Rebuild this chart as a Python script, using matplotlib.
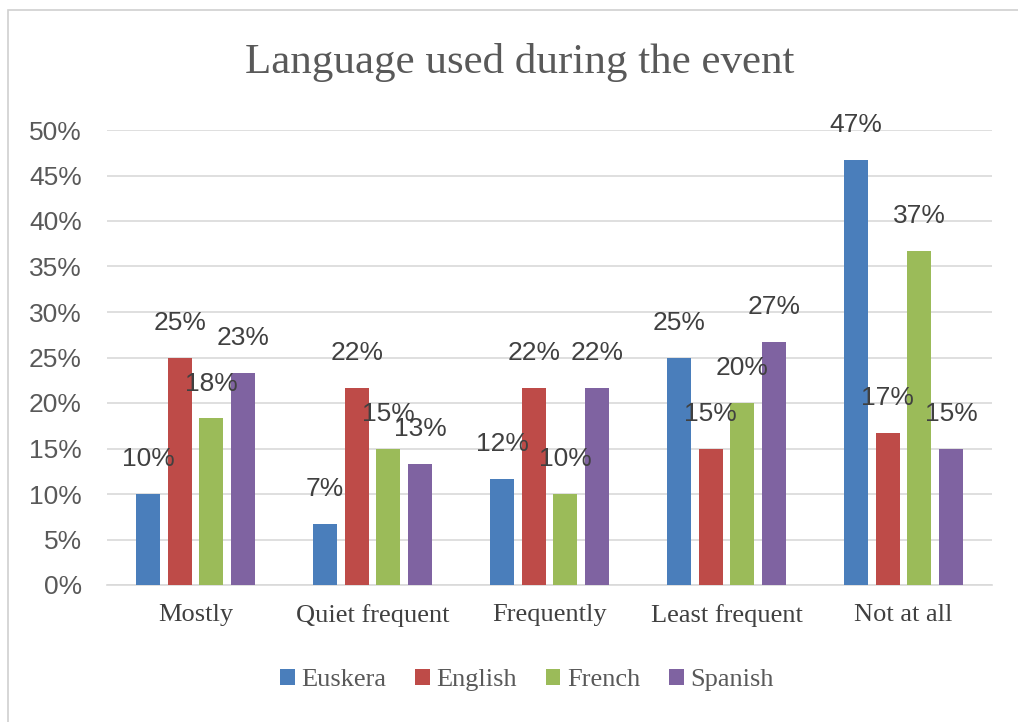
#!/usr/bin/env python3
"""Grouped bar chart: language used during the event."""

import matplotlib
matplotlib.use("Agg")
import matplotlib.pyplot as plt
import numpy as np
from matplotlib.patches import Rectangle

categories = ["Mostly", "Quiet frequent", "Frequently", "Least frequent", "Not at all"]
languages = ["Euskera", "English", "French", "Spanish"]
euskera = [0.100, 0.067, 0.117, 0.250, 0.467]
english = [0.250, 0.217, 0.217, 0.150, 0.167]
french = [0.183, 0.150, 0.100, 0.200, 0.367]
spanish = [0.233, 0.133, 0.217, 0.267, 0.150]
colors = ["#4a7ebb", "#be4b48", "#9bbb59", "#7f63a1"]


def main():
    series = [euskera, english, french, spanish]
    fig = plt.figure(figsize=(10.18, 7.22), dpi=100)
    # chart-area border (only left and top edges fall inside the picture)
    fig.patches.append(Rectangle((8 / 1018, -0.05), 1.1, 1.05 - 10 / 722, transform=fig.transFigure,
                                 fill=False, edgecolor="#d0d0d0", linewidth=1.2))
    ax = fig.add_axes([107 / 1018, 1 - 585 / 722, 885 / 1018, 455 / 722])

    x = np.arange(len(categories))
    width = 0.136
    step = 0.179
    for i, (vals, name, col) in enumerate(zip(series, languages, colors)):
        pos = x + (i - 1.5) * step
        ax.bar(pos, vals, width, color=col, label=name, zorder=3)
        for px, v in zip(pos, vals):
            ax.annotate(f"{v * 100:.0f}%", (px, v), xytext=(0, 25), textcoords="offset points",
                        ha="center", va="center", fontsize=19, color="#404040",
                        family="Liberation Sans", zorder=4)

    ax.set_xlim(-0.5, len(categories) - 0.5)
    ax.set_ylim(0, 0.5)
    ticks = np.arange(0, 0.51, 0.05)
    ax.set_yticks(ticks)
    ax.set_yticklabels([f"{int(round(t * 100))}%" for t in ticks],
                       family="Liberation Sans", fontsize=19, color="#595959")
    ax.set_xticks(x)
    ax.set_xticklabels(categories, family="Liberation Serif", fontsize=19, color="#404040")
    ax.tick_params(axis="x", length=0, pad=14)
    ax.tick_params(axis="y", length=0, pad=18)
    ax.grid(True, axis="y", color="#d9d9d9", linewidth=1.2, zorder=0)
    for s in ["top", "right", "left"]:
        ax.spines[s].set_visible(False)
    ax.spines["bottom"].set_color("#d9d9d9")
    ax.spines["bottom"].set_linewidth(1.2)

    fig.text(520 / 1018, 1 - 63 / 722, "Language used during the event", ha="center", va="center",
             family="Liberation Serif", fontsize=31, color="#595959")
    fig.legend(loc="center", bbox_to_anchor=(527 / 1018, 1 - 680 / 722), ncol=4, frameon=False,
               prop={"family": "Liberation Serif", "size": 19}, handlelength=0.55, handleheight=0.55,
               handletextpad=0.25, columnspacing=1.1, labelcolor="#595959")

    fig.savefig("out.png", dpi=100)


if __name__ == "__main__":
    main()
